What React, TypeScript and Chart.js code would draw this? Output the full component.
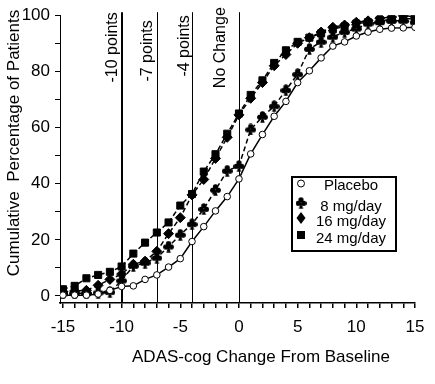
import React, { useEffect, useRef } from 'react';
import { Chart, registerables } from 'chart.js';

Chart.register(...registerables);

// ---- data ----
const xValues = [-15, -14, -13, -12, -11, -10, -9, -8, -7, -6, -5, -4, -3, -2, -1, 0, 1, 2, 3, 4, 5, 6, 7, 8, 9, 10, 11, 12, 13, 14, 15];
const placebo = [0.3, 0.3, 0.3, 0.7, 2, 3.4, 3.6, 5.9, 7.5, 10.3, 13.3, 19.4, 24.7, 30.3, 35.4, 41.7, 50.6, 57.5, 64, 69.3, 76, 80.2, 84.8, 89, 90.5, 92.6, 94, 95, 95.4, 95.5, 95.7];
const mg8 = [0.9, 1, 1, 1.2, 1.4, 5.5, 10.7, 11.8, 13.6, 17.6, 21.8, 25.6, 31, 37.8, 44.6, 46.3, 59.3, 63.8, 67.6, 73.3, 79, 88, 90.5, 92.3, 94, 95.2, 97, 97.5, 98, 98, 97.5];
const mg16 = [1.5, 1.8, 2, 3.8, 5.9, 7.8, 11.3, 12.4, 15.9, 22.2, 27.9, 36, 41.5, 49, 56.5, 64.5, 70.4, 76, 82, 86, 90, 92, 94, 95.7, 96.5, 97.5, 98, 99, 99.3, 99.8, 99.5];
const mg24 = [2.4, 3.6, 6.3, 7.5, 8.6, 10.5, 15.1, 19, 22.6, 26.2, 32.2, 36.3, 44.3, 50.5, 57.8, 65, 71.6, 76.8, 83, 87.5, 90.5, 92, 93.5, 95, 96, 97, 97.5, 98, 98.5, 99, 98.5];
const seriesNames = ['Placebo', '8 mg/day', '16 mg/day', '24 mg/day'];
const refValues = [-10, -7, -4, 0];
const refLabels = ['-10 points', '-7 points', '-4 points', 'No Change'];
const xTitle = 'ADAS-cog Change From Baseline';
const yTitle = 'Cumulative  Percentage of Patients';

// ---- styling / layout (not data) ----
const refLineWidths = [2, 1, 1, 1];
const refLabelGap = [5.5, 5.5, 3.5, 14.5];
const refLabelTop = [5, 13, 8, 0];
const FONT = '"Liberation Sans", Arial, sans-serif';
const NARROW = '"Liberation Sans Narrow", "Liberation Sans", Arial, sans-serif';

function makeClub(): HTMLCanvasElement {
  const c = document.createElement('canvas');
  c.width = 11;
  c.height = 12;
  const g = c.getContext('2d')!;
  g.fillStyle = '#000';
  const dots: [number, number][] = [[5.5, 2.8], [2.7, 6.3], [8.3, 6.3]];
  dots.forEach(([x, y]) => {
    g.beginPath();
    g.arc(x, y, 2.6, 0, Math.PI * 2);
    g.fill();
  });
  g.beginPath();
  g.moveTo(5.5, 5);
  g.lineTo(3.3, 11.8);
  g.lineTo(7.7, 11.8);
  g.closePath();
  g.fill();
  return c;
}

export default function App() {
  const canvasRef = useRef<HTMLCanvasElement | null>(null);

  useEffect(() => {
    const club = makeClub();
    const toPts = (arr: number[]) => xValues.map((x, i) => ({ x, y: arr[i] }));

    const refPlugin = {
      id: 'refLines',
      beforeDatasetsDraw(chart: any) {
        const { ctx, chartArea, scales } = chart;
        ctx.save();
        refValues.forEach((v, i) => {
          const px = Math.round(scales.x.getPixelForValue(v)) + (refLineWidths[i] % 2 ? 0.5 : 0);
          ctx.strokeStyle = '#000';
          ctx.lineWidth = refLineWidths[i];
          ctx.beginPath();
          ctx.moveTo(px, chartArea.top - 3);
          ctx.lineTo(px, chartArea.bottom);
          ctx.stroke();
          ctx.save();
          ctx.translate(px - refLabelGap[i], chartArea.top - 8 + refLabelTop[i]);
          ctx.rotate(-Math.PI / 2);
          ctx.fillStyle = '#000';
          ctx.font = `16px ${FONT}`;
          ctx.textAlign = 'right';
          ctx.textBaseline = 'alphabetic';
          ctx.fillText(refLabels[i], 0, 0);
          ctx.restore();
        });
        ctx.restore();
      },
      afterDraw(chart: any) {
        const { ctx, chartArea } = chart;
        ctx.save();
        ctx.fillStyle = '#000';
        // x title
        ctx.font = `17px ${FONT}`;
        ctx.textAlign = 'center';
        ctx.textBaseline = 'alphabetic';
        ctx.fillText(xTitle, chartArea.left + 201, 362);
        // y title
        ctx.save();
        ctx.translate(19, 143);
        ctx.rotate(-Math.PI / 2);
        ctx.fillText(yTitle, 0, 0);
        ctx.restore();

        // legend
        const bx = 292, by = 177, bw = 104, bh = 74;
        ctx.lineWidth = 2;
        ctx.strokeStyle = '#000';
        ctx.fillStyle = '#fff';
        ctx.fillRect(bx, by, bw, bh);
        ctx.strokeRect(bx, by, bw, bh);
        const rowY = [186, 206.5, 222, 238.5];
        const markY = [183.5, 203, 218, 235];
        const mx = 301;
        ctx.font = `15px ${FONT}`;
        ctx.textAlign = 'center';
        ctx.textBaseline = 'middle';
        seriesNames.forEach((name, i) => {
          ctx.fillStyle = '#000';
          ctx.fillText(name, 351, rowY[i]);
          const y = markY[i];
          if (i === 0) {
            ctx.beginPath();
            ctx.arc(mx, y, 3.5, 0, Math.PI * 2);
            ctx.fillStyle = '#fff';
            ctx.fill();
            ctx.lineWidth = 1;
            ctx.stroke();
          } else if (i === 1) {
            ctx.drawImage(club, mx - 5.5, y - 6);
          } else if (i === 2) {
            ctx.beginPath();
            ctx.moveTo(mx, y - 6);
            ctx.lineTo(mx + 4.5, y);
            ctx.lineTo(mx, y + 6);
            ctx.lineTo(mx - 4.5, y);
            ctx.closePath();
            ctx.fillStyle = '#000';
            ctx.fill();
          } else {
            ctx.fillStyle = '#000';
            ctx.fillRect(mx - 4, y - 4, 8, 8);
          }
        });
        ctx.restore();
      },
    };

    const common = {
      borderColor: '#000',
      borderWidth: 1.5,
      pointBorderColor: '#000',
      pointBorderWidth: 1,
      tension: 0,
      fill: false,
    };

    const chart = new Chart(canvasRef.current!, {
      type: 'line',
      data: {
        datasets: [
          { ...common, label: seriesNames[0], data: toPts(placebo), pointStyle: 'circle', pointRadius: 3.3, pointBackgroundColor: '#fff', borderDash: [] },
          { ...common, label: seriesNames[1], data: toPts(mg8), pointStyle: club as any, pointRadius: 5, pointBackgroundColor: '#000', borderDash: [5, 3] },
          { ...common, label: seriesNames[2], data: toPts(mg16), pointStyle: 'rectRot', pointRadius: 5, pointBackgroundColor: '#000', borderDash: [5, 3] },
          { ...common, label: seriesNames[3], data: toPts(mg24), pointStyle: 'rect', pointRadius: 5, pointBackgroundColor: '#000', borderDash: [5, 3] },
        ],
      },
      options: {
        animation: false,
        responsive: true,
        maintainAspectRatio: false,
        layout: { padding: { left: 0, right: 20, top: 8, bottom: 0 } },
        plugins: { legend: { display: false }, tooltip: { enabled: false } },
        scales: {
          x: {
            type: 'linear',
            min: -15.25,
            max: 15,
            afterFit: (s: any) => { s.height = 81; },
            ticks: {
              stepSize: 1,
              includeBounds: false,
              autoSkip: false,
              maxRotation: 0,
              color: '#000',
              padding: 9,
              font: { family: NARROW, size: 17 },
              callback: (v: any) => (Number(v) % 5 === 0 ? String(v) : ''),
            },
            grid: { display: true, drawOnChartArea: false, drawTicks: true, tickLength: 5, color: '#000', lineWidth: 1.5 },
            border: { display: true, color: '#000', width: 1.5 },
          },
          y: {
            type: 'linear',
            min: -2.5,
            max: 100,
            afterFit: (s: any) => { s.width = 60; },
            ticks: {
              stepSize: 10,
              includeBounds: false,
              color: '#000',
              padding: 5,
              font: { family: NARROW, size: 17 },
              callback: (v: any) => (Number(v) % 20 === 0 ? String(v) : ''),
            },
            grid: { display: true, drawOnChartArea: false, drawTicks: true, tickLength: 5, color: '#000', lineWidth: 1 },
            border: { display: true, color: '#000', width: 1 },
          },
        },
      },
      plugins: [refPlugin],
    } as any);

    return () => chart.destroy();
  }, []);

  return (
    <div style={{ position: 'absolute', left: 0, top: 0, width: 435, height: 384, background: '#fff' }}>
      <canvas ref={canvasRef} />
    </div>
  );
}
